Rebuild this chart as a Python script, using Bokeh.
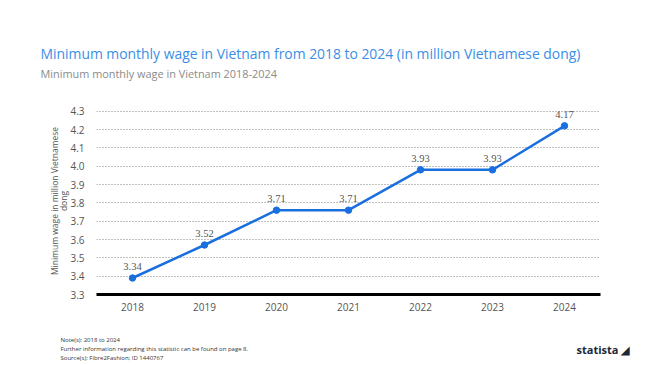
from bokeh.plotting import figure
from bokeh.models import (ColumnDataSource, LabelSet, Label, Title, FixedTicker,
                          NumeralTickFormatter)
from bokeh.embed import file_html
from bokeh.resources import INLINE

years = ["2018", "2019", "2020", "2021", "2022", "2023", "2024"]
# positions of the points as drawn in the picture
plotted = [3.39, 3.57, 3.76, 3.76, 3.98, 3.98, 4.22]
# value labels as printed in the picture
labels = ["3.34", "3.52", "3.71", "3.71", "3.93", "3.93", "4.17"]
y_ticks = [3.3, 3.4, 3.5, 3.6, 3.7, 3.8, 3.9, 4.0, 4.1, 4.2, 4.3]

title_text = "Minimum monthly wage in Vietnam from 2018 to 2024 (in million Vietnamese dong)"
subtitle_text = "Minimum monthly wage in Vietnam 2018-2024"
ylabel_text = "Minimum wage in million Vietnamese\ndong"
footer_text = ("Note(s): 2018 to 2024\n"
               "Further information regarding this statistic can be found on page 8.\n"
               "Source(s): Fibre2Fashion; ID 1440767")
logo_text = "statista \u25e2"

FONT = "Open Sans"
BLUE = "#1a6fdf"
GRAY = "#555555"

src = ColumnDataSource(dict(x=years, y=plotted, t=labels))

p = figure(width=650, height=365, x_range=years, y_range=(3.3, 4.32),
           output_backend="svg", toolbar_location=None, title=None,
           min_border_left=96, min_border_right=50, min_border_top=107,
           min_border_bottom=71)
p.outline_line_color = None
p.background_fill_color = "white"
p.border_fill_color = "white"

p.line("x", "y", source=src, line_color=BLUE, line_width=2.5)
p.scatter("x", "y", source=src, size=6.5, fill_color=BLUE, line_color=BLUE)

ls = LabelSet(x="x", y="y", text="t", source=src, y_offset=8,
              text_align="center", text_baseline="bottom",
              text_font=FONT, text_font_size="10.5px", text_color=GRAY)
p.add_layout(ls)

# grid
p.xgrid.grid_line_color = None
p.ygrid.ticker = FixedTicker(ticks=y_ticks)
p.ygrid.grid_line_color = "#808080"
p.ygrid.grid_line_dash = "1 2"
p.ygrid.grid_line_width = 1

# y axis
p.yaxis.ticker = FixedTicker(ticks=y_ticks)
p.yaxis.formatter = NumeralTickFormatter(format="0.0")
p.yaxis.axis_line_color = None
p.yaxis.major_tick_line_color = None
p.yaxis.minor_tick_line_color = None
p.yaxis.major_label_text_font = FONT
p.yaxis.major_label_text_font_size = "10px"
p.yaxis.major_label_text_color = GRAY
p.yaxis.major_label_standoff = 6
p.yaxis.axis_label = ylabel_text
p.yaxis.axis_label_text_font = FONT
p.yaxis.axis_label_text_font_size = "8.5px"
p.yaxis.axis_label_text_font_style = "normal"
p.yaxis.axis_label_text_color = GRAY
p.yaxis.axis_label_text_line_height = 0.9
p.yaxis.axis_label_standoff = -2

# x axis
p.xaxis.axis_line_color = "black"
p.xaxis.axis_line_width = 3
p.xaxis.major_tick_line_color = None
p.xaxis.minor_tick_line_color = None
p.xaxis.major_label_text_font = FONT
p.xaxis.major_label_text_font_size = "10px"
p.xaxis.major_label_text_color = GRAY
p.xaxis.major_label_standoff = 2

# titles: first added in "above" sits nearest the frame
p.add_layout(Title(text=subtitle_text, align="left", offset=-56, standoff=54,
                   text_font=FONT, text_font_size="10.9px", text_font_style="normal",
                   text_color="#8a8a8a"), "above")
p.add_layout(Title(text=title_text, align="left", offset=-56, standoff=-53,
                   text_font=FONT, text_font_size="13.9px", text_font_style="normal",
                   text_color="#3a8ee6"), "above")

# logo (own slim panel just under the axis), then the footer notes
p.add_layout(Label(x=480, y=-15, x_units="screen", y_units="screen",
                   text=logo_text, text_font=FONT, text_font_size="11px",
                   text_font_style="bold", text_color="#1b2838",
                   text_baseline="middle",
                   padding=dict(left=0, right=0, top=3, bottom=2)), "below")
p.add_layout(Title(text=footer_text, align="left", offset=-36, standoff=0,
                   text_font=FONT, text_font_size="6px", text_font_style="normal",
                   text_line_height=1.17, text_color="#333333"), "below")

open("out.html", "w").write(file_html(p, INLINE))
